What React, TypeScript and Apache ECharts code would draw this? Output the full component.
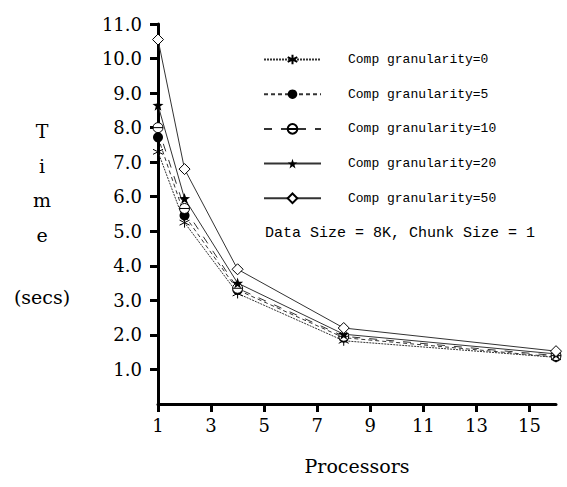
import React, { useEffect, useRef } from "react";
import * as echarts from "echarts";

const processors = [1, 2, 4, 8, 16];
const gran0 = [7.3, 5.25, 3.2, 1.83, 1.35];
const gran5 = [7.72, 5.46, 3.3, 1.92, 1.36];
const gran10 = [8.0, 5.66, 3.35, 1.96, 1.4];
const gran20 = [8.65, 5.95, 3.5, 2.02, 1.45];
const gran50 = [10.55, 6.8, 3.9, 2.2, 1.53];
const seriesNames = [
  "Comp granularity=0",
  "Comp granularity=5",
  "Comp granularity=10",
  "Comp granularity=20",
  "Comp granularity=50",
];
const xTicks = [1, 3, 5, 7, 9, 11, 13, 15];
const yTicks = [1, 2, 3, 4, 5, 6, 7, 8, 9, 10, 11];
const yNameLetters = ["T", "i", "m", "e"];
const note = "Data Size = 8K, Chunk Size = 1";

const ASTERISK = "path://M5 0 L5 10 M0.67 2.5 L9.33 7.5 M0.67 7.5 L9.33 2.5";
const THETA = "path://M0 5 A5 5 0 1 1 10 5 A5 5 0 1 1 0 5 Z M0 5 L10 5";
const STAR =
  "path://M5 0 L6.18 3.38 L9.76 3.45 L6.9 5.62 L7.94 9.05 L5 7 L2.06 9.05 L3.1 5.62 L0.24 3.45 L3.82 3.38 Z";

export default function App() {
  const ref = useRef<HTMLDivElement>(null);
  useEffect(() => {
    if (!ref.current) return;
    const chart = echarts.init(ref.current, undefined, { renderer: "svg" });
    const serif = "DejaVu Serif";
    const lineColor = "#333";
    const mk = (name: string, vals: number[], symbol: string, size: number, itemStyle: any, dash: any) => ({
      name,
      type: "line",
      data: processors.map((p, i) => [p, vals[i]]),
      symbol,
      symbolSize: size,
      showAllSymbol: true,
      lineStyle: { color: lineColor, width: 1, type: dash },
      itemStyle,
      z: 3,
    });
    chart.setOption({
      animation: false,
      backgroundColor: "#fff",
      grid: { left: 158, right: 11, top: 24, bottom: 83 },
      xAxis: {
        type: "value",
        min: 1,
        max: 16,
        name: "Processors",
        nameLocation: "middle",
        nameGap: 52,
        nameTextStyle: { fontFamily: serif, fontSize: 19, color: "#000" },
        axisLine: { show: true, onZero: false, lineStyle: { color: "#000", width: 3 } },
        axisTick: { show: true, length: 8, lineStyle: { color: "#000", width: 3 }, customValues: xTicks },
        axisLabel: { fontFamily: serif, fontSize: 18, color: "#000", margin: 12, customValues: xTicks },
        splitLine: { show: false },
      },
      yAxis: {
        type: "value",
        min: 0,
        max: 11,
        interval: 1,
        axisLine: { show: true, onZero: false, lineStyle: { color: "#000", width: 3 } },
        axisTick: { show: true, length: 8, lineStyle: { color: "#000", width: 3 }, customValues: yTicks },
        axisLabel: {
          fontFamily: serif,
          fontSize: 18,
          color: "#000",
          margin: 16,
          customValues: yTicks,
          formatter: (v: number) => v.toFixed(1),
        },
        splitLine: { show: false },
      },
      legend: {
        orient: "vertical",
        left: 258,
        top: 48,
        itemWidth: 57,
        itemHeight: 12,
        itemGap: 21.7,
        data: seriesNames,
        textStyle: {
          fontFamily: "Liberation Mono",
          fontSize: 13,
          color: "#000",
          lineHeight: 12,
          padding: [0, 0, 0, 22],
        },
      },
      graphic: [
        ...yNameLetters.map((t, i) => ({
          type: "text",
          x: 42,
          y: [131, 166, 200, 235][i],
          style: { text: t, fontFamily: serif, fontSize: 19, fill: "#000", align: "center", verticalAlign: "middle" },
        })),
        {
          type: "text",
          x: 42,
          y: 297,
          style: { text: "(secs)", fontFamily: serif, fontSize: 19, fill: "#000", align: "center", verticalAlign: "middle" },
        },
        {
          type: "text",
          x: 265,
          y: 233,
          style: { text: note, fontFamily: "Liberation Mono", fontSize: 15, fill: "#000", align: "left", verticalAlign: "middle" },
        },
      ],
      series: [
        mk(seriesNames[0], gran0, ASTERISK, 10, { color: "transparent", borderColor: "#000", borderWidth: 1 }, [2, 1]),
        mk(seriesNames[1], gran5, "circle", 10, { color: "#000", borderColor: "#000", borderWidth: 0 }, [4, 3]),
        mk(seriesNames[2], gran10, THETA, 10, { color: "#fff", borderColor: "#000", borderWidth: 1 }, [8, 9]),
        mk(seriesNames[3], gran20, STAR, 11, { color: "#000", borderColor: "#000", borderWidth: 0 }, "solid"),
        mk(seriesNames[4], gran50, "diamond", 11, { color: "#fff", borderColor: "#000", borderWidth: 1 }, "solid"),
      ],
    });
    return () => chart.dispose();
  }, []);
  return <div ref={ref} style={{ position: "fixed", left: 0, top: 0, width: 567, height: 487 }} />;
}
